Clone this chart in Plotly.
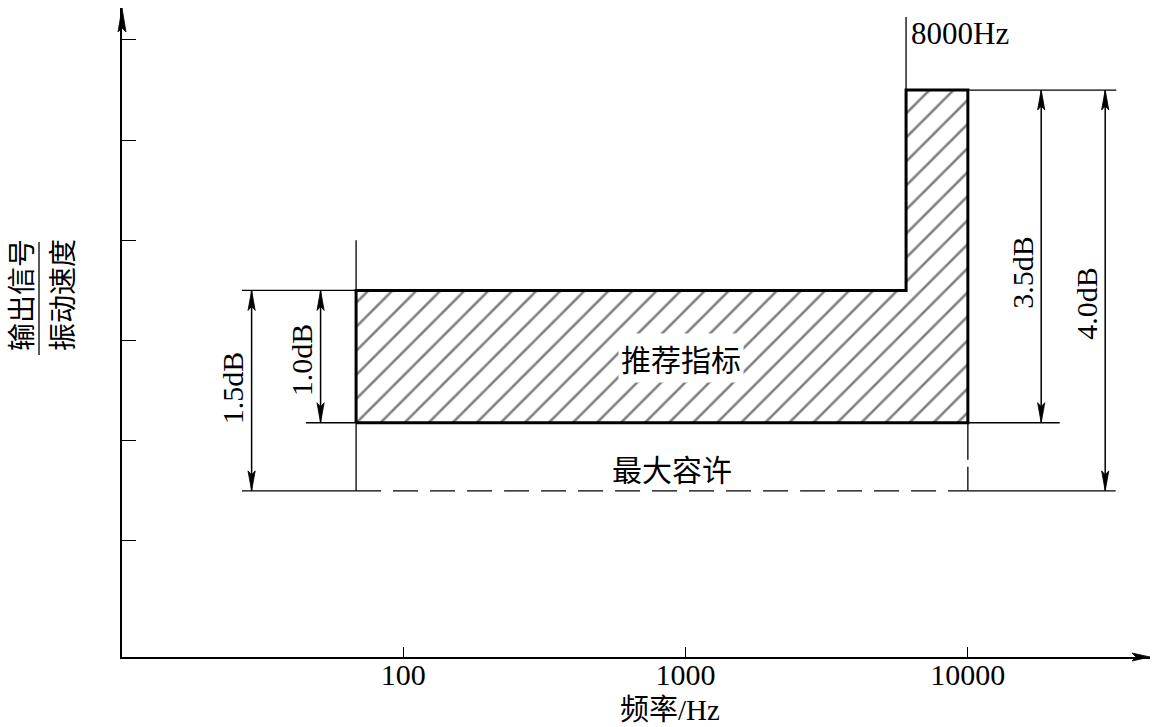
import numpy as np
import plotly.graph_objects as go

# ---------------- data ----------------
freq_ticks = [100, 1000, 10000]
freq_tick_labels = ["100", "1000", "10000"]
level_ticks = [1, 2, 3, 4, 5, 6]

f_low = 68        # left edge of recommended band (Hz, as drawn)
f_step = 6040     # step position, labelled "8000Hz"
f_high = 10000    # right edge of band
lvl_top = 5.5     # top of high-frequency step
lvl_mid = 3.5     # upper limit of flat band
lvl_low = 2.18    # lower limit of recommended band
lvl_min = 1.5     # maximum allowable lower limit

band_x = [f_low, f_low, f_step, f_step, f_high, f_high, f_low]
band_y = [lvl_low, lvl_mid, lvl_mid, lvl_top, lvl_top, lvl_low, lvl_low]

dim_labels = ["1.5dB", "1.0dB", "3.5dB", "4.0dB"]
dim_freq = [29.0, 50.9, 18190, 30660]
dim_from = [lvl_mid, lvl_mid, lvl_top, lvl_top]
dim_to = [lvl_min, lvl_low, lvl_low, lvl_min]
dim_label_y = [2.53, 2.81, 3.68, 3.37]

# extension lines: (x0, x1, y) horizontal
ext_h_x0 = [26.8, 45.2, 26.8, f_high, f_high, f_high]
ext_h_x1 = [f_low, f_low, f_low, 21150, 33550, 33400]
ext_h_y = [lvl_mid, lvl_low, lvl_min, lvl_low, lvl_top, lvl_min]

step_label = "8000Hz"
band_label = "推荐指标"
allow_label = "最大容许"
x_title = "频率/Hz"
y_title_top = "输出信号"
y_title_bottom = "振动速度"

# ---------------- layout constants ----------------
W, H = 1160, 727
ML, MR, MT, MB = 122, 10, 8, 70
PW, PH = W - ML - MR, H - MT - MB
XR = [1.0032, 4.6453]
YR = [-0.158, 6.319]
SERIF = "Liberation Serif, Times New Roman, Noto Sans CJK SC, serif"
CJK = "Noto Sans CJK SC, Liberation Serif, sans-serif"
THIN = 1.3
THICK = 3


def to_paper(x, y):
    return ((np.log10(x) - XR[0]) / (XR[1] - XR[0]),
            (y - YR[0]) / (YR[1] - YR[0]))


def arrow_shape(x, y, direction, length=20, half=3.6, notch=4):
    px, py = to_paper(x, y)
    ux, uy = {"up": (0, 1), "down": (0, -1), "right": (1, 0)}[direction]
    vx, vy = -uy, ux
    pts = [(0, 0), (-length, half), (-(length - notch), 0), (-length, -half)]
    coords = []
    for a, b in pts:
        dx = a * ux + b * vx
        dy = a * uy + b * vy
        coords.append((px + dx / PW, py + dy / PH))
    path = "M " + " L ".join(f"{cx:.5f},{cy:.5f}" for cx, cy in coords) + " Z"
    return dict(type="path", xref="paper", yref="paper", path=path,
                fillcolor="black", line=dict(color="black", width=0.8), layer="above")


fig = go.Figure()


def seg(xs, ys, width=THIN, dash="solid"):
    fig.add_trace(go.Scatter(x=xs, y=ys, mode="lines",
                             line=dict(color="black", width=width, dash=dash),
                             hoverinfo="skip", showlegend=False))


# hatched band
fig.add_trace(go.Scatter(
    x=band_x, y=band_y, mode="lines", fill="toself",
    fillcolor="white",
    fillpattern=dict(shape="/", size=17, solidity=0.15, fgcolor="black", bgcolor="white"),
    line=dict(color="black", width=THICK), hoverinfo="skip", showlegend=False))

# extension lines
for x0, x1, y in zip(ext_h_x0, ext_h_x1, ext_h_y):
    seg([x0, x1], [y, y])
seg([f_low, f_high], [lvl_min, lvl_min], dash="25px,12px")
seg([f_low, f_low], [4.0, lvl_min])
seg([f_step, f_step], [6.23, lvl_top])
seg([f_high, f_high], [lvl_low, lvl_min], dash="37px,7px")

shapes = []
annotations = []

# dimension arrows
for lab, fx, y0, y1, ly in zip(dim_labels, dim_freq, dim_from, dim_to, dim_label_y):
    seg([fx, fx], [y0, y1], width=1.5)
    shapes.append(arrow_shape(fx, y0, "up"))
    shapes.append(arrow_shape(fx, y1, "down"))
    annotations.append(dict(x=np.log10(fx), y=ly, xref="x", yref="y", text=lab,
                            showarrow=False, textangle=-90, xshift=-19,
                            xanchor="center", yanchor="middle",
                            font=dict(family=SERIF, size=30, color="black")))

# axis arrows
shapes.append(arrow_shape(10 ** XR[0], YR[1], "up", length=24, half=4))
shapes.append(arrow_shape(10 ** XR[1], YR[0], "right", length=18, half=4))

# y-title fraction bar
shapes.append(dict(type="line", xref="paper", yref="paper",
                   x0=(39 - ML) / PW, x1=(39 - ML) / PW,
                   y0=(H - MB - 242) / PH, y1=(H - MB - 355) / PH,
                   line=dict(color="black", width=1.3), layer="above"))

annotations += [
    dict(x=np.log10(f_step), y=6.06, xref="x", yref="y", text=step_label,
         showarrow=False, xanchor="left", yanchor="middle", xshift=3,
         font=dict(family=SERIF, size=31, color="black")),
    dict(x=2.984, y=2.826, xref="x", yref="y", text=band_label, showarrow=False,
         bgcolor="white", borderpad=2, xanchor="center", yanchor="middle",
         font=dict(family=CJK, size=30, color="black")),
    dict(x=2.952, y=1.729, xref="x", yref="y", text=allow_label, showarrow=False,
         xanchor="center", yanchor="middle",
         font=dict(family=CJK, size=30, color="black")),
    dict(x=(670 - ML) / PW, y=(H - MB - 710) / PH, xref="paper", yref="paper",
         text=x_title, showarrow=False, xanchor="center", yanchor="middle",
         font=dict(family=SERIF, size=29, color="black")),
    dict(x=(20 - ML) / PW, y=(H - MB - 295) / PH, xref="paper", yref="paper",
         text=y_title_top, showarrow=False, textangle=-90,
         xanchor="center", yanchor="middle", borderpad=0,
         font=dict(family=CJK, size=28, color="black")),
    dict(x=(61 - ML) / PW, y=(H - MB - 295) / PH, xref="paper", yref="paper",
         text=y_title_bottom, showarrow=False, textangle=-90,
         xanchor="center", yanchor="middle", borderpad=0,
         font=dict(family=CJK, size=28, color="black")),
]

fig.update_layout(
    width=W, height=H,
    margin=dict(l=ML, r=MR, t=MT, b=MB),
    paper_bgcolor="white", plot_bgcolor="white",
    showlegend=False,
    xaxis=dict(type="log", range=XR, showgrid=False, zeroline=False,
               showline=True, linecolor="black", linewidth=1.5,
               ticks="inside", ticklen=10, tickwidth=1.3, tickcolor="black",
               tickvals=freq_ticks, ticktext=freq_tick_labels,
               ticklabelstandoff=-10,
               tickfont=dict(family=SERIF, size=30, color="black")),
    yaxis=dict(range=YR, showgrid=False, zeroline=False,
               showline=True, linecolor="black", linewidth=1.5,
               ticks="inside", ticklen=14, tickwidth=1.3, tickcolor="black",
               tickvals=level_ticks, showticklabels=False),
    shapes=shapes,
    annotations=annotations,
)

fig.write_html("out.html",
               config={"displayModeBar": False},
               post_script="document.body.style.margin='0px';"
                           "document.body.style.overflow='hidden';")
